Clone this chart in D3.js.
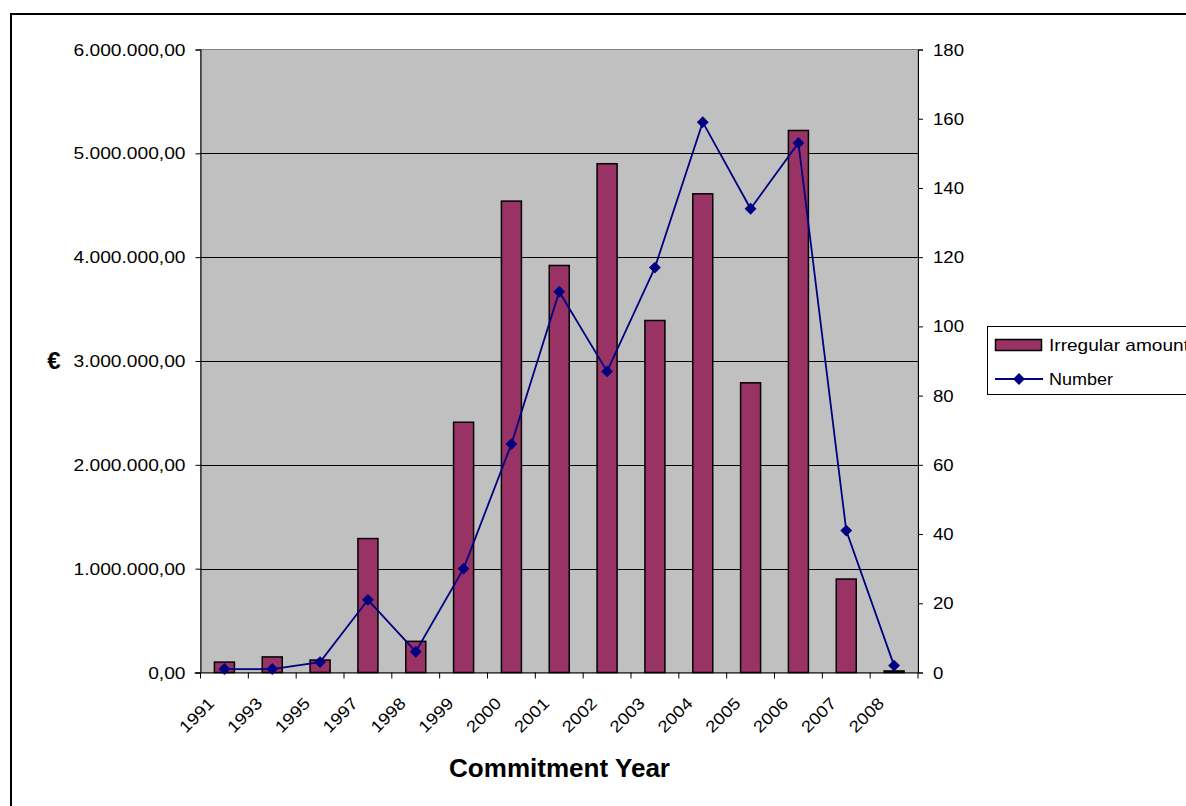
<!DOCTYPE html>
<html>
<head>
<meta charset="utf-8">
<script src="https://cdn.jsdelivr.net/npm/d3@7"></script>
<style>
  html, body { margin: 0; padding: 0; background: #fff; }
  svg { display: block; font-family: "Liberation Sans", Arial, sans-serif; }
  svg text { font-family: "Liberation Sans", Arial, sans-serif; }
</style>
</head>
<body>
<svg id="chart" width="1186" height="806"></svg>
<script>
const years = ["1991","1993","1995","1997","1998","1999","2000","2001","2002","2003","2004","2005","2006","2007","2008"];
const irregularAmount = [100000,150000,120000,1290000,300000,2410000,4540000,3920000,4900000,3390000,4610000,2790000,5220000,900000,15000];
const numberCount = [1,1,3,21,6,30,66,110,87,117,159,134,153,41,2];
const leftTicks = [0,1000000,2000000,3000000,4000000,5000000,6000000];
const rightTicks = [0,20,40,60,80,100,120,140,160,180];
const seriesNames = ["Irregular amount","Number"];

const svg = d3.select("#chart");
const L = 200.5, R = 918, T = 49.5, B = 672.5;
const FONT = "'Liberation Sans', Arial, sans-serif";

const x = d3.scaleBand().domain(years).range([L, R]).paddingInner(0).paddingOuter(0);
const yL = d3.scaleLinear().domain([0, 6000000]).range([B, T]);
const yR = d3.scaleLinear().domain([0, 180]).range([B, T]);

const loc = d3.formatLocale({decimal: ",", thousands: ".", grouping: [3], currency: ["", "€"]});
const fmtL = loc.format(",.2f");

// widen text horizontally by factor k (reference font renders wider)
function stretch(sel, k) {
  sel.each(function() {
    const w = this.getComputedTextLength();
    d3.select(this).attr("textLength", w * k).attr("lengthAdjust", "spacingAndGlyphs");
  });
}
function factorFor(node, target) { return target / node.getComputedTextLength(); }

// outer frame
svg.append("rect").attr("x", 11).attr("y", 14).attr("width", 1200).attr("height", 820)
  .attr("fill", "none").attr("stroke", "#000").attr("stroke-width", 2);

// plot area
svg.append("rect").attr("x", L).attr("y", T).attr("width", R - L).attr("height", B - T)
  .attr("fill", "#C0C0C0").attr("stroke", "#808080").attr("stroke-width", 1);

// gridlines
svg.append("g").selectAll("line").data(leftTicks.filter(d => d > 0 && d < 6000000)).join("line")
  .attr("x1", L).attr("x2", R)
  .attr("y1", d => Math.round(yL(d)) + 0.5).attr("y2", d => Math.round(yL(d)) + 0.5)
  .attr("stroke", "#000").attr("stroke-width", 1);

// bars
svg.append("g").selectAll("rect").data(years).join("rect")
  .attr("x", (d) => x(d) + x.bandwidth() / 2 - 10)
  .attr("width", 20)
  .attr("y", (d, i) => yL(irregularAmount[i]))
  .attr("height", (d, i) => B - yL(irregularAmount[i]))
  .attr("fill", "#993366").attr("stroke", "#000").attr("stroke-width", 1.5);

// left axis
const axL = d3.axisLeft(yL).tickValues(leftTicks).tickFormat(fmtL).tickSize(5).tickPadding(10);
const gL = svg.append("g").attr("transform", `translate(${L},0)`).call(axL);
gL.attr("font-family", FONT);
gL.select(".domain").attr("stroke", "#000");
gL.selectAll(".tick line").attr("stroke", "#000");
const tL = gL.selectAll("text").attr("font-size", 16).attr("fill", "#000").attr("dy", "0.35em");
const kL = factorFor(tL.nodes()[tL.size() - 1], 112);
stretch(tL, kL);

// right axis
const axR = d3.axisRight(yR).tickValues(rightTicks).tickSize(5).tickPadding(10);
const gR = svg.append("g").attr("transform", `translate(${R},0)`).call(axR);
gR.attr("font-family", FONT);
gR.select(".domain").attr("stroke", "#000");
gR.selectAll(".tick line").attr("stroke", "#000");
const tR = gR.selectAll("text").attr("font-size", 16).attr("fill", "#000").attr("dy", "0.35em");
const kR = factorFor(tR.nodes()[tR.size() - 1], 31);
stretch(tR, kR);

// x axis
const gX = svg.append("g").attr("transform", `translate(0,${B})`).attr("font-family", FONT);
gX.append("line").attr("x1", L - 6).attr("x2", R).attr("y1", 0.5).attr("y2", 0.5).attr("stroke", "#000");
const bounds = years.map(d => x(d)).concat([R]);
gX.selectAll("line.tk").data(bounds).join("line").attr("class", "tk")
  .attr("x1", d => d).attr("x2", d => d).attr("y1", 0).attr("y2", 6).attr("stroke", "#000");
const tX = gX.selectAll("text").data(years).join("text")
  .attr("transform", d => `translate(${x(d) + x.bandwidth() / 2 - 9},${32}) rotate(-45)`)
  .attr("text-anchor", "end")
  .attr("font-size", 16.5)
  .text(d => d);
const kX = factorFor(tX.nodes()[tX.size() - 1], 41.5);
stretch(tX, kX);

// line series
const line = d3.line().x((d, i) => x(years[i]) + x.bandwidth() / 2).y(d => yR(d));
svg.append("path").datum(numberCount).attr("d", line)
  .attr("fill", "none").attr("stroke", "#000080").attr("stroke-width", 1.8);
svg.append("g").selectAll("path").data(numberCount).join("path")
  .attr("d", d3.symbol().type(d3.symbolSquare).size(70))
  .attr("transform", (d, i) => `translate(${x(years[i]) + x.bandwidth() / 2},${yR(d)}) rotate(45)`)
  .attr("fill", "#000080");

// axis titles
const xt = svg.append("text").attr("x", 559.5).attr("y", 777).attr("text-anchor", "middle")
  .attr("font-size", 25).attr("font-weight", "bold").text("Commitment Year");
stretch(xt, factorFor(xt.node(), 221));
svg.append("text").attr("x", 54).attr("y", 369).attr("text-anchor", "middle")
  .attr("font-size", 24).attr("font-weight", "bold").text("€");

// legend
const lg = svg.append("g").attr("font-family", FONT);
lg.append("rect").attr("x", 987.5).attr("y", 326.5).attr("width", 260).attr("height", 68)
  .attr("fill", "#fff").attr("stroke", "#000").attr("stroke-width", 1);
lg.append("rect").attr("x", 995.5).attr("y", 339.5).attr("width", 46).attr("height", 11)
  .attr("fill", "#993366").attr("stroke", "#000").attr("stroke-width", 1.5);
const lt1 = lg.append("text").attr("x", 1049).attr("y", 351).attr("font-size", 17).text(seriesNames[0]);
lg.append("line").attr("x1", 995).attr("x2", 1043).attr("y1", 379).attr("y2", 379)
  .attr("stroke", "#000080").attr("stroke-width", 1.8);
lg.append("path").attr("transform", "translate(1019,379) rotate(45)")
  .attr("d", d3.symbol().type(d3.symbolSquare).size(70)).attr("fill", "#000080");
const lt2 = lg.append("text").attr("x", 1049).attr("y", 384.5).attr("font-size", 17).text(seriesNames[1]);
stretch(lt1, factorFor(lt1.node(), 140));
stretch(lt2, factorFor(lt2.node(), 64));
</script>
</body>
</html>
